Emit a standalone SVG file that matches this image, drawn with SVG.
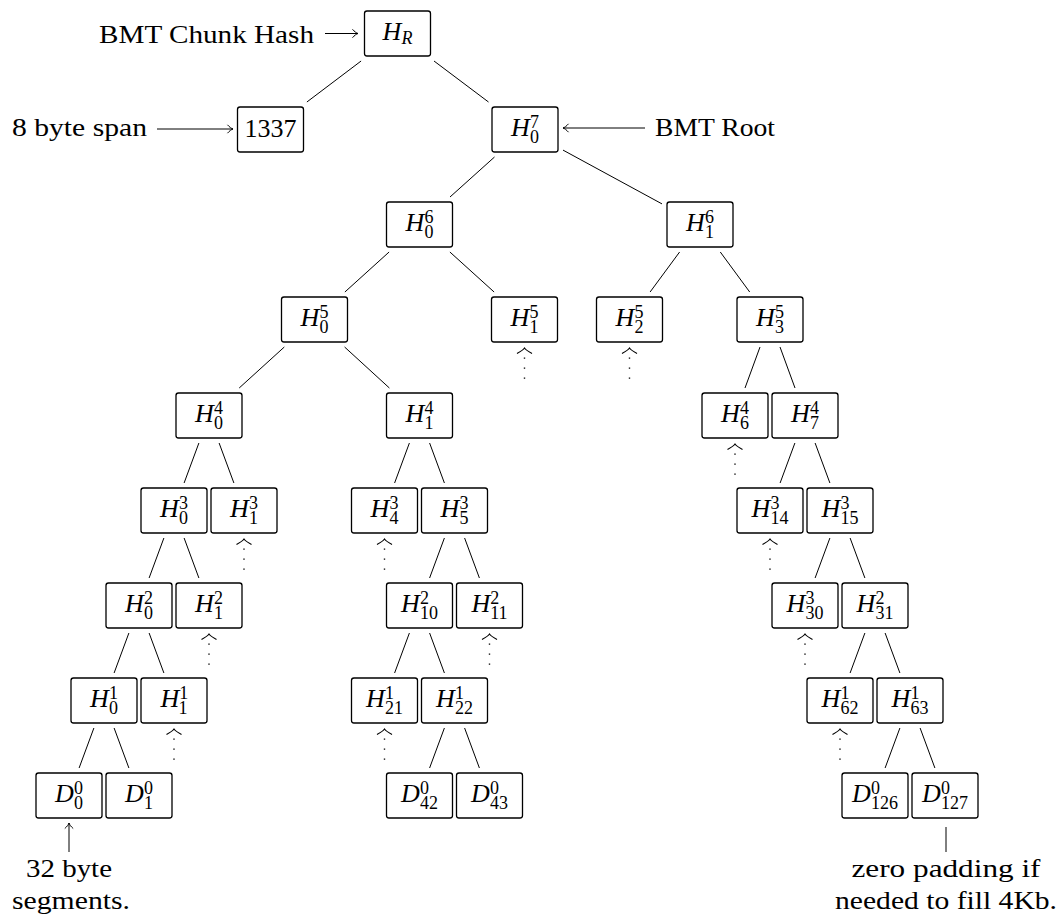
<svg xmlns="http://www.w3.org/2000/svg" xmlns:xlink="http://www.w3.org/1999/xlink" width="1062" height="921" viewBox="0 0 1062 921">
<style>
.box{fill:#fff;stroke:#000;stroke-width:1.3}
.edge{stroke:#000;stroke-width:1;fill:none}
.dot{stroke:#000;stroke-width:1.4;fill:none;stroke-dasharray:1.3 8.7}
.chev{stroke:#000;stroke-width:1.2;fill:none}
.arr{stroke:#000;stroke-width:1;fill:none}
.t{font-family:"Liberation Serif","DejaVu Serif",serif;font-size:26px;fill:#000}
.lbl{text-anchor:middle}
.v{font-style:italic}
.s{font-size:18px}
</style>
<defs>
<marker id="tip" markerUnits="userSpaceOnUse" markerWidth="12" markerHeight="12" viewBox="-7 -6 8 12" refX="0" refY="0" orient="auto">
<path d="M-5.5 -4.2 C-3.5 -1.8 -1.5 -0.5 0 0 C-1.5 0.5 -3.5 1.8 -5.5 4.2" fill="none" stroke="#000" stroke-width="1"/>
</marker>
<g id="stub">
<path class="chev" d="M-7.5 11.5 C-4 9.6 -1.5 8.2 0 6 C1.5 8.2 4 9.6 7.5 11.5"/>
<line class="dot" x1="0" y1="15.5" x2="0" y2="38"/>
</g>
</defs>
<rect width="1062" height="921" fill="#fff"/>

<g id="connectors">
<line class="edge" x1="361.1" y1="61" x2="306.9" y2="102"/>
<line class="edge" x1="434" y1="61" x2="488.5" y2="102"/>
<line class="edge" x1="494.5" y1="157" x2="450" y2="197"/>
<line class="edge" x1="563" y1="150.1" x2="662" y2="203.9"/>
<line class="edge" x1="389.1" y1="252" x2="344.9" y2="292"/>
<line class="edge" x1="449.9" y1="252" x2="494.1" y2="292"/>
<line class="edge" x1="679.6" y1="252" x2="650.1" y2="292"/>
<line class="edge" x1="720.3" y1="252" x2="749.7" y2="292"/>
<line class="edge" x1="284.3" y1="347" x2="239.2" y2="388"/>
<line class="edge" x1="344.6" y1="347" x2="389.4" y2="388"/>
<line class="edge" x1="760" y1="347" x2="745" y2="388"/>
<line class="edge" x1="780" y1="347" x2="795" y2="388"/>
<line class="edge" x1="198.9" y1="443" x2="184.1" y2="483"/>
<line class="edge" x1="219.1" y1="443" x2="233.9" y2="483"/>
<line class="edge" x1="409.4" y1="443" x2="394.6" y2="483"/>
<line class="edge" x1="429.6" y1="443" x2="444.4" y2="483"/>
<line class="edge" x1="794.9" y1="443" x2="780.1" y2="483"/>
<line class="edge" x1="815.1" y1="443" x2="829.9" y2="483"/>
<line class="edge" x1="163.9" y1="538" x2="149.1" y2="578"/>
<line class="edge" x1="184.1" y1="538" x2="198.9" y2="578"/>
<line class="edge" x1="444.4" y1="538" x2="429.6" y2="578"/>
<line class="edge" x1="464.6" y1="538" x2="479.4" y2="578"/>
<line class="edge" x1="829.9" y1="538" x2="815.1" y2="578"/>
<line class="edge" x1="850.1" y1="538" x2="864.9" y2="578"/>
<line class="edge" x1="128.9" y1="633" x2="114.1" y2="673"/>
<line class="edge" x1="149.1" y1="633" x2="163.9" y2="673"/>
<line class="edge" x1="409.4" y1="633" x2="394.6" y2="673"/>
<line class="edge" x1="429.6" y1="633" x2="444.4" y2="673"/>
<line class="edge" x1="864.9" y1="633" x2="850.1" y2="673"/>
<line class="edge" x1="885.1" y1="633" x2="899.9" y2="673"/>
<line class="edge" x1="93.9" y1="728" x2="79.1" y2="768"/>
<line class="edge" x1="114.1" y1="728" x2="128.9" y2="768"/>
<line class="edge" x1="444.4" y1="728" x2="429.6" y2="768"/>
<line class="edge" x1="464.6" y1="728" x2="479.4" y2="768"/>
<line class="edge" x1="899.9" y1="728" x2="885.1" y2="768"/>
<line class="edge" x1="920.1" y1="728" x2="934.9" y2="768"/>
<use xlink:href="#stub" href="#stub" x="524.5" y="342"/>
<use xlink:href="#stub" href="#stub" x="629.5" y="342"/>
<use xlink:href="#stub" href="#stub" x="735" y="438"/>
<use xlink:href="#stub" href="#stub" x="244" y="533"/>
<use xlink:href="#stub" href="#stub" x="384.5" y="533"/>
<use xlink:href="#stub" href="#stub" x="770" y="533"/>
<use xlink:href="#stub" href="#stub" x="209" y="628"/>
<use xlink:href="#stub" href="#stub" x="489.5" y="628"/>
<use xlink:href="#stub" href="#stub" x="805" y="628"/>
<use xlink:href="#stub" href="#stub" x="174" y="723"/>
<use xlink:href="#stub" href="#stub" x="384.5" y="723"/>
<use xlink:href="#stub" href="#stub" x="840" y="723"/>
<line class="arr" x1="325" y1="33.5" x2="358" y2="33.5" marker-end="url(#tip)"/>
<line class="arr" x1="157" y1="129" x2="233" y2="129" marker-end="url(#tip)"/>
<line class="arr" x1="645" y1="128" x2="563" y2="128" marker-end="url(#tip)"/>
<line class="arr" x1="69" y1="852" x2="69" y2="823" marker-end="url(#tip)"/>
<line class="arr" x1="946" y1="827" x2="946" y2="852"/>
</g>

<g id="annotations">
<text class="t" x="99" y="43" textLength="215" lengthAdjust="spacingAndGlyphs">BMT Chunk Hash</text>
<text class="t" x="12" y="136" textLength="135" lengthAdjust="spacingAndGlyphs">8 byte span</text>
<text class="t" x="655" y="136" textLength="120" lengthAdjust="spacingAndGlyphs">BMT Root</text>
<text class="t lbl" x="69" y="877" textLength="86" lengthAdjust="spacingAndGlyphs">32 byte</text>
<text class="t lbl" x="71" y="909" textLength="118" lengthAdjust="spacingAndGlyphs">segments.</text>
<text class="t lbl" x="946" y="877" textLength="189" lengthAdjust="spacingAndGlyphs">zero padding if</text>
<text class="t lbl" x="946" y="909" textLength="222" lengthAdjust="spacingAndGlyphs">needed to fill 4Kb.</text>
</g>

<g id="n-HR"><rect class="box" x="364.5" y="11" width="66" height="45" rx="2.5"/><text class="t lbl" x="397.5" y="40"><tspan class="v">H</tspan><tspan class="s v" dy="4">R</tspan></text></g>
<g id="n-1337"><rect class="box" x="237.5" y="107" width="66" height="45" rx="2.5"/><text class="t lbl" x="270.5" y="137">1337</text></g>
<g id="n-H07"><rect class="box" x="492" y="107" width="66" height="45" rx="2.5"/><text class="t lbl" x="525" y="136"><tspan class="v">H</tspan><tspan class="s" dy="-8">7</tspan><tspan class="s" dx="-9" dy="15">0</tspan></text></g>

<g id="n-H06"><rect class="box" x="386.5" y="202" width="66" height="45" rx="2.5"/><text class="t lbl" x="419.5" y="231"><tspan class="v">H</tspan><tspan class="s" dy="-8">6</tspan><tspan class="s" dx="-9" dy="15">0</tspan></text></g>
<g id="n-H16"><rect class="box" x="667" y="202" width="66" height="45" rx="2.5"/><text class="t lbl" x="700" y="231"><tspan class="v">H</tspan><tspan class="s" dy="-8">6</tspan><tspan class="s" dx="-9" dy="15">1</tspan></text></g>

<g id="n-H05"><rect class="box" x="281.5" y="297" width="66" height="45" rx="2.5"/><text class="t lbl" x="314.5" y="326"><tspan class="v">H</tspan><tspan class="s" dy="-8">5</tspan><tspan class="s" dx="-9" dy="15">0</tspan></text></g>
<g id="n-H15"><rect class="box" x="491.5" y="297" width="66" height="45" rx="2.5"/><text class="t lbl" x="524.5" y="326"><tspan class="v">H</tspan><tspan class="s" dy="-8">5</tspan><tspan class="s" dx="-9" dy="15">1</tspan></text></g>
<g id="n-H25"><rect class="box" x="596.5" y="297" width="66" height="45" rx="2.5"/><text class="t lbl" x="629.5" y="326"><tspan class="v">H</tspan><tspan class="s" dy="-8">5</tspan><tspan class="s" dx="-9" dy="15">2</tspan></text></g>
<g id="n-H35"><rect class="box" x="737" y="297" width="66" height="45" rx="2.5"/><text class="t lbl" x="770" y="326"><tspan class="v">H</tspan><tspan class="s" dy="-8">5</tspan><tspan class="s" dx="-9" dy="15">3</tspan></text></g>

<g id="n-H04"><rect class="box" x="176" y="393" width="66" height="45" rx="2.5"/><text class="t lbl" x="209" y="422"><tspan class="v">H</tspan><tspan class="s" dy="-8">4</tspan><tspan class="s" dx="-9" dy="15">0</tspan></text></g>
<g id="n-H14"><rect class="box" x="386.5" y="393" width="66" height="45" rx="2.5"/><text class="t lbl" x="419.5" y="422"><tspan class="v">H</tspan><tspan class="s" dy="-8">4</tspan><tspan class="s" dx="-9" dy="15">1</tspan></text></g>
<g id="n-H64"><rect class="box" x="702" y="393" width="66" height="45" rx="2.5"/><text class="t lbl" x="735" y="422"><tspan class="v">H</tspan><tspan class="s" dy="-8">4</tspan><tspan class="s" dx="-9" dy="15">6</tspan></text></g>
<g id="n-H74"><rect class="box" x="772" y="393" width="66" height="45" rx="2.5"/><text class="t lbl" x="805" y="422"><tspan class="v">H</tspan><tspan class="s" dy="-8">4</tspan><tspan class="s" dx="-9" dy="15">7</tspan></text></g>

<g id="n-H03"><rect class="box" x="141" y="488" width="66" height="45" rx="2.5"/><text class="t lbl" x="174" y="517"><tspan class="v">H</tspan><tspan class="s" dy="-8">3</tspan><tspan class="s" dx="-9" dy="15">0</tspan></text></g>
<g id="n-H13"><rect class="box" x="211" y="488" width="66" height="45" rx="2.5"/><text class="t lbl" x="244" y="517"><tspan class="v">H</tspan><tspan class="s" dy="-8">3</tspan><tspan class="s" dx="-9" dy="15">1</tspan></text></g>
<g id="n-H43"><rect class="box" x="351.5" y="488" width="66" height="45" rx="2.5"/><text class="t lbl" x="384.5" y="517"><tspan class="v">H</tspan><tspan class="s" dy="-8">3</tspan><tspan class="s" dx="-9" dy="15">4</tspan></text></g>
<g id="n-H53"><rect class="box" x="421.5" y="488" width="66" height="45" rx="2.5"/><text class="t lbl" x="454.5" y="517"><tspan class="v">H</tspan><tspan class="s" dy="-8">3</tspan><tspan class="s" dx="-9" dy="15">5</tspan></text></g>
<g id="n-H143"><rect class="box" x="737" y="488" width="66" height="45" rx="2.5"/><text class="t lbl" x="770" y="517"><tspan class="v">H</tspan><tspan class="s" dy="-8">3</tspan><tspan class="s" dx="-9" dy="15">14</tspan></text></g>
<g id="n-H153"><rect class="box" x="807" y="488" width="66" height="45" rx="2.5"/><text class="t lbl" x="840" y="517"><tspan class="v">H</tspan><tspan class="s" dy="-8">3</tspan><tspan class="s" dx="-9" dy="15">15</tspan></text></g>

<g id="n-H02"><rect class="box" x="106" y="583" width="66" height="45" rx="2.5"/><text class="t lbl" x="139" y="612"><tspan class="v">H</tspan><tspan class="s" dy="-8">2</tspan><tspan class="s" dx="-9" dy="15">0</tspan></text></g>
<g id="n-H12"><rect class="box" x="176" y="583" width="66" height="45" rx="2.5"/><text class="t lbl" x="209" y="612"><tspan class="v">H</tspan><tspan class="s" dy="-8">2</tspan><tspan class="s" dx="-9" dy="15">1</tspan></text></g>
<g id="n-H102"><rect class="box" x="386.5" y="583" width="66" height="45" rx="2.5"/><text class="t lbl" x="419.5" y="612"><tspan class="v">H</tspan><tspan class="s" dy="-8">2</tspan><tspan class="s" dx="-9" dy="15">10</tspan></text></g>
<g id="n-H112"><rect class="box" x="456.5" y="583" width="66" height="45" rx="2.5"/><text class="t lbl" x="489.5" y="612"><tspan class="v">H</tspan><tspan class="s" dy="-8">2</tspan><tspan class="s" dx="-9" dy="15">11</tspan></text></g>
<g id="n-H303"><rect class="box" x="772" y="583" width="66" height="45" rx="2.5"/><text class="t lbl" x="805" y="612"><tspan class="v">H</tspan><tspan class="s" dy="-8">3</tspan><tspan class="s" dx="-9" dy="15">30</tspan></text></g>
<g id="n-H312"><rect class="box" x="842" y="583" width="66" height="45" rx="2.5"/><text class="t lbl" x="875" y="612"><tspan class="v">H</tspan><tspan class="s" dy="-8">2</tspan><tspan class="s" dx="-9" dy="15">31</tspan></text></g>

<g id="n-H01"><rect class="box" x="71" y="678" width="66" height="45" rx="2.5"/><text class="t lbl" x="104" y="707"><tspan class="v">H</tspan><tspan class="s" dy="-8">1</tspan><tspan class="s" dx="-9" dy="15">0</tspan></text></g>
<g id="n-H11"><rect class="box" x="141" y="678" width="66" height="45" rx="2.5"/><text class="t lbl" x="174" y="707"><tspan class="v">H</tspan><tspan class="s" dy="-8">1</tspan><tspan class="s" dx="-9" dy="15">1</tspan></text></g>
<g id="n-H211"><rect class="box" x="351.5" y="678" width="66" height="45" rx="2.5"/><text class="t lbl" x="384.5" y="707"><tspan class="v">H</tspan><tspan class="s" dy="-8">1</tspan><tspan class="s" dx="-9" dy="15">21</tspan></text></g>
<g id="n-H221"><rect class="box" x="421.5" y="678" width="66" height="45" rx="2.5"/><text class="t lbl" x="454.5" y="707"><tspan class="v">H</tspan><tspan class="s" dy="-8">1</tspan><tspan class="s" dx="-9" dy="15">22</tspan></text></g>
<g id="n-H621"><rect class="box" x="807" y="678" width="66" height="45" rx="2.5"/><text class="t lbl" x="840" y="707"><tspan class="v">H</tspan><tspan class="s" dy="-8">1</tspan><tspan class="s" dx="-9" dy="15">62</tspan></text></g>
<g id="n-H631"><rect class="box" x="877" y="678" width="66" height="45" rx="2.5"/><text class="t lbl" x="910" y="707"><tspan class="v">H</tspan><tspan class="s" dy="-8">1</tspan><tspan class="s" dx="-9" dy="15">63</tspan></text></g>

<g id="n-D0"><rect class="box" x="36" y="773" width="66" height="45" rx="2.5"/><text class="t lbl" x="69" y="802"><tspan class="v">D</tspan><tspan class="s" dy="-8">0</tspan><tspan class="s" dx="-9" dy="15">0</tspan></text></g>
<g id="n-D1"><rect class="box" x="106" y="773" width="66" height="45" rx="2.5"/><text class="t lbl" x="139" y="802"><tspan class="v">D</tspan><tspan class="s" dy="-8">0</tspan><tspan class="s" dx="-9" dy="15">1</tspan></text></g>
<g id="n-D42"><rect class="box" x="386.5" y="773" width="66" height="45" rx="2.5"/><text class="t lbl" x="419.5" y="802"><tspan class="v">D</tspan><tspan class="s" dy="-8">0</tspan><tspan class="s" dx="-9" dy="15">42</tspan></text></g>
<g id="n-D43"><rect class="box" x="456.5" y="773" width="66" height="45" rx="2.5"/><text class="t lbl" x="489.5" y="802"><tspan class="v">D</tspan><tspan class="s" dy="-8">0</tspan><tspan class="s" dx="-9" dy="15">43</tspan></text></g>
<g id="n-D126"><rect class="box" x="842" y="773" width="66" height="45" rx="2.5"/><text class="t lbl" x="875" y="802"><tspan class="v">D</tspan><tspan class="s" dy="-8">0</tspan><tspan class="s" dx="-9" dy="15">126</tspan></text></g>
<g id="n-D127"><rect class="box" x="912" y="773" width="66" height="45" rx="2.5"/><text class="t lbl" x="945" y="802"><tspan class="v">D</tspan><tspan class="s" dy="-8">0</tspan><tspan class="s" dx="-9" dy="15">127</tspan></text></g>
</svg>
